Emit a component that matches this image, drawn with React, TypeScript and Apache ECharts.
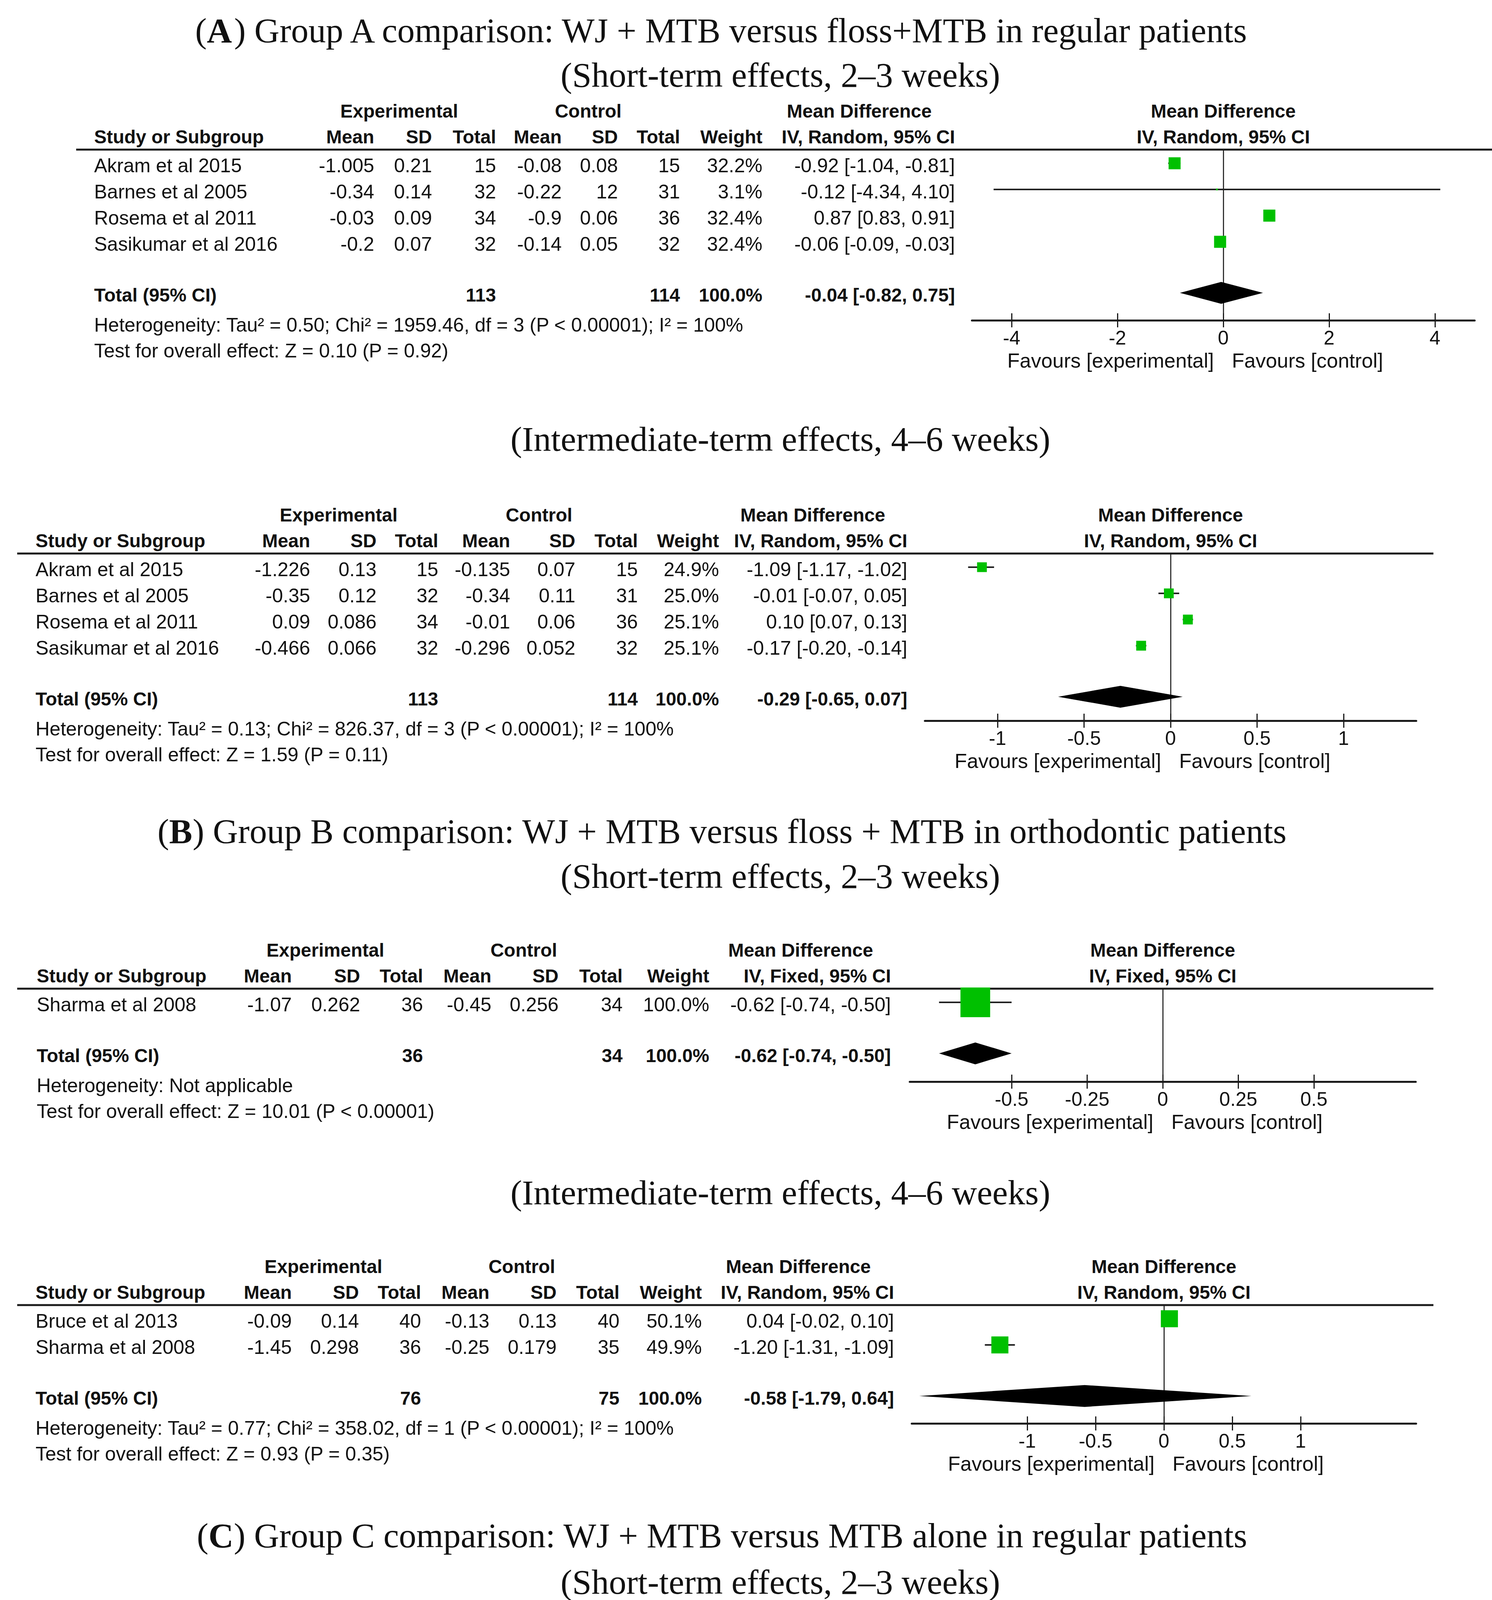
import React, { useEffect, useRef } from "react";
import * as echarts from "echarts";

// ---------------- Text content ----------------
const titleTexts = [
  "({b|A}) Group A comparison: WJ + MTB versus floss+MTB in regular patients",
  "(Short-term effects, 2–3 weeks)",
  "(Intermediate-term effects, 4–6 weeks)",
  "({b|B}) Group B comparison: WJ + MTB versus floss + MTB in orthodontic patients",
  "(Short-term effects, 2–3 weeks)",
  "(Intermediate-term effects, 4–6 weeks)",
  "({b|C}) Group C comparison: WJ + MTB versus MTB alone in regular patients",
  "(Short-term effects, 2–3 weeks)",
  "(Intermediate-term effects, 4–6 weeks)",
];
const groupHeads = ["Experimental", "Control", "Mean Difference"];
const colHeads = ["Mean", "SD", "Total", "Mean", "SD", "Total", "Weight"];
const studyHead = "Study or Subgroup";
const totalLabel = "Total (95% CI)";
const favourLabels = ["Favours [experimental]", "Favours [control]"];

// ---------------- Panel A1: Group A short-term ----------------
const a1Method = "IV, Random, 95% CI";
const a1Studies = ["Akram et al 2015", "Barnes et al 2005", "Rosema et al 2011", "Sasikumar et al 2016"];
const a1ExpMean = [-1.005, -0.34, -0.03, -0.2];
const a1ExpSD = [0.21, 0.14, 0.09, 0.07];
const a1ExpN = [15, 32, 34, 32];
const a1CtlMean = [-0.08, -0.22, -0.9, -0.14];
const a1CtlSD = [0.08, 12, 0.06, 0.05];
const a1CtlN = [15, 31, 36, 32];
const a1Weight = [32.2, 3.1, 32.4, 32.4];
const a1MD = [-0.92, -0.12, 0.87, -0.06];
const a1Lo = [-1.04, -4.34, 0.83, -0.09];
const a1Hi = [-0.81, 4.1, 0.91, -0.03];
const a1TotalN = [113, 114];
const a1TotalCI = [-0.04, -0.82, 0.75];
const a1Ticks = [-4, -2, 0, 2, 4];
const a1Notes = [
  "Heterogeneity: Tau² = 0.50; Chi² = 1959.46, df = 3 (P < 0.00001); I² = 100%",
  "Test for overall effect: Z = 0.10 (P = 0.92)",
];

// ---------------- Panel A2: Group A intermediate ----------------
const a2Method = "IV, Random, 95% CI";
const a2Studies = ["Akram et al 2015", "Barnes et al 2005", "Rosema et al 2011", "Sasikumar et al 2016"];
const a2ExpMean = [-1.226, -0.35, 0.09, -0.466];
const a2ExpSD = [0.13, 0.12, 0.086, 0.066];
const a2ExpN = [15, 32, 34, 32];
const a2CtlMean = [-0.135, -0.34, -0.01, -0.296];
const a2CtlSD = [0.07, 0.11, 0.06, 0.052];
const a2CtlN = [15, 31, 36, 32];
const a2Weight = [24.9, 25.0, 25.1, 25.1];
const a2MD = [-1.09, -0.01, 0.1, -0.17];
const a2Lo = [-1.17, -0.07, 0.07, -0.2];
const a2Hi = [-1.02, 0.05, 0.13, -0.14];
const a2TotalN = [113, 114];
const a2TotalCI = [-0.29, -0.65, 0.07];
const a2Ticks = [-1, -0.5, 0, 0.5, 1];
const a2Notes = [
  "Heterogeneity: Tau² = 0.13; Chi² = 826.37, df = 3 (P < 0.00001); I² = 100%",
  "Test for overall effect: Z = 1.59 (P = 0.11)",
];

// ---------------- Panel B1: Group B short-term ----------------
const b1Method = "IV, Fixed, 95% CI";
const b1Studies = ["Sharma et al 2008"];
const b1ExpMean = [-1.07];
const b1ExpSD = [0.262];
const b1ExpN = [36];
const b1CtlMean = [-0.45];
const b1CtlSD = [0.256];
const b1CtlN = [34];
const b1Weight = [100.0];
const b1MD = [-0.62];
const b1Lo = [-0.74];
const b1Hi = [-0.5];
const b1TotalN = [36, 34];
const b1TotalCI = [-0.62, -0.74, -0.5];
const b1Ticks = [-0.5, -0.25, 0, 0.25, 0.5];
const b1Notes = ["Heterogeneity: Not applicable", "Test for overall effect: Z = 10.01 (P < 0.00001)"];

// ---------------- Panel B2: Group B intermediate ----------------
const b2Method = "IV, Random, 95% CI";
const b2Studies = ["Bruce et al 2013", "Sharma et al 2008"];
const b2ExpMean = [-0.09, -1.45];
const b2ExpSD = [0.14, 0.298];
const b2ExpN = [40, 36];
const b2CtlMean = [-0.13, -0.25];
const b2CtlSD = [0.13, 0.179];
const b2CtlN = [40, 35];
const b2Weight = [50.1, 49.9];
const b2MD = [0.04, -1.2];
const b2Lo = [-0.02, -1.31];
const b2Hi = [0.1, -1.09];
const b2TotalN = [76, 75];
const b2TotalCI = [-0.58, -1.79, 0.64];
const b2Ticks = [-1, -0.5, 0, 0.5, 1];
const b2Notes = [
  "Heterogeneity: Tau² = 0.77; Chi² = 358.02, df = 1 (P < 0.00001); I² = 100%",
  "Test for overall effect: Z = 0.93 (P = 0.35)",
];

// ---------------- Panel C1: Group C short-term ----------------
const c1Method = "IV, Random, 95% CI";
const c1Studies = ["Cutler et al 2000", "Goyal et al 2018"];
const c1ExpMean = [-0.3, -0.08];
const c1ExpSD = [0.29, 0.009];
const c1ExpN = [20, 36];
const c1CtlMean = [-0.2, -0.04];
const c1CtlSD = [0.157, 0.01];
const c1CtlN = [20, 36];
const c1Weight = [0.1, 99.9];
const c1MD = [-0.1, -0.04];
const c1Lo = [-0.24, -0.0445];
const c1Hi = [0.04, -0.0355];
const c1TotalN = [56, 56];
const c1TotalCI = [-0.04, -0.0445, -0.0355];
const c1Ticks = [-0.2, -0.1, 0, 0.1, 0.2];
const c1Notes = [
  "Heterogeneity: Tau² = 0.00; Chi² = 0.66, df = 1 (P = 0.42); I² = 0%",
  "Test for overall effect: Z = 17.87 (P < 0.00001)",
];

// ---------------- Panel C2: Group C intermediate ----------------
const c2Method = "IV, Random, 95% CI";
const c2Studies = ["Ernst et al 2004"];
const c2ExpMean = [-0.3];
const c2ExpSD = [0.29];
const c2ExpN = [15];
const c2CtlMean = [-1.2];
const c2CtlSD = [0.6];
const c2CtlN = [15];
const c2Weight = [100.0];
const c2MD = [0.9];
const c2Lo = [0.56];
const c2Hi = [1.24];
const c2TotalN = [15, 15];
const c2TotalCI = [0.9, 0.56, 1.24];
const c2Ticks = [-1, -0.5, 0, 0.5, 1];
const c2Notes = ["Heterogeneity: Not applicable", "Test for overall effect: Z = 5.23 (P < 0.00001)"];

// ---------------- Layout (pixels) ----------------
const W = 3820;
const H = 5643;
const TITLE_POS = [
  [1849, 78], [1998, 192], [1998, 1124],
  [1849, 2128], [1998, 2243], [1998, 3053],
  [1849, 3931], [1998, 4050], [1998, 4928],
];
const LAYOUTS = [
  { headerY: 383, axisY: 820, studyX: 241, rule: [195, 3820], cols: [958, 1106, 1270, 1438, 1582, 1741, 1952, 2445], expC: 1022, ctlC: 1506, mdC: 2200, zeroX: 3132, half: 4.75, ppu: 135.5 },
  { headerY: 1417, axisY: 1845, studyX: 91, rule: [44, 3670], cols: [794, 964, 1122, 1306, 1473, 1633, 1841, 2323], expC: 867, ctlC: 1380, mdC: 2081, zeroX: 2997, half: 1.42, ppu: 443 },
  { headerY: 2531, axisY: 2769, studyX: 94, rule: [44, 3670], cols: [747, 922, 1083, 1258, 1430, 1594, 1816, 2281], expC: 833, ctlC: 1341, mdC: 2050, zeroX: 2977, half: 0.837, ppu: 774 },
  { headerY: 3341, axisY: 3644, studyX: 91, rule: [44, 3670], cols: [747, 919, 1078, 1253, 1425, 1586, 1797, 2289], expC: 828, ctlC: 1336, mdC: 2044, zeroX: 2980, half: 1.845, ppu: 350 },
  { headerY: 4335, axisY: 4641, studyX: 94, rule: [44, 3670], cols: [747, 919, 1078, 1250, 1425, 1586, 1797, 2289], expC: 828, ctlC: 1336, mdC: 2044, zeroX: 2979, half: 0.272, ppu: 2370 },
  { headerY: 5219, axisY: 5460, studyX: 93, rule: [49, 3647], cols: [760, 918, 1072, 1255, 1372, 1535, 1759, 2261], expC: 833, ctlC: 1303, mdC: 2010, zeroX: 2955, half: 1.56, ppu: 414 },
];
const ROW_H = 67;
const FIRST = 35;
const TXT_DY = 6;
const FS_HEAD = 48;
const FS_ROW = 50;
const FS_TICK = 50;
const FS_FAV = 52;
const FS_TITLE = 89;
const SANS = "'Liberation Sans', Arial, sans-serif";
const SERIF = "'Liberation Serif', 'Times New Roman', serif";
const INK = "#111111";
const LINE = "#1a1a1a";
const GREEN = "#00c000";

const panels = [
  { method: a1Method, studies: a1Studies, expMean: a1ExpMean, expSD: a1ExpSD, expN: a1ExpN, ctlMean: a1CtlMean, ctlSD: a1CtlSD, ctlN: a1CtlN, weight: a1Weight, md: a1MD, lo: a1Lo, hi: a1Hi, totalN: a1TotalN, totalCI: a1TotalCI, ticks: a1Ticks, notes: a1Notes },
  { method: a2Method, studies: a2Studies, expMean: a2ExpMean, expSD: a2ExpSD, expN: a2ExpN, ctlMean: a2CtlMean, ctlSD: a2CtlSD, ctlN: a2CtlN, weight: a2Weight, md: a2MD, lo: a2Lo, hi: a2Hi, totalN: a2TotalN, totalCI: a2TotalCI, ticks: a2Ticks, notes: a2Notes },
  { method: b1Method, studies: b1Studies, expMean: b1ExpMean, expSD: b1ExpSD, expN: b1ExpN, ctlMean: b1CtlMean, ctlSD: b1CtlSD, ctlN: b1CtlN, weight: b1Weight, md: b1MD, lo: b1Lo, hi: b1Hi, totalN: b1TotalN, totalCI: b1TotalCI, ticks: b1Ticks, notes: b1Notes },
  { method: b2Method, studies: b2Studies, expMean: b2ExpMean, expSD: b2ExpSD, expN: b2ExpN, ctlMean: b2CtlMean, ctlSD: b2CtlSD, ctlN: b2CtlN, weight: b2Weight, md: b2MD, lo: b2Lo, hi: b2Hi, totalN: b2TotalN, totalCI: b2TotalCI, ticks: b2Ticks, notes: b2Notes },
  { method: c1Method, studies: c1Studies, expMean: c1ExpMean, expSD: c1ExpSD, expN: c1ExpN, ctlMean: c1CtlMean, ctlSD: c1CtlSD, ctlN: c1CtlN, weight: c1Weight, md: c1MD, lo: c1Lo, hi: c1Hi, totalN: c1TotalN, totalCI: c1TotalCI, ticks: c1Ticks, notes: c1Notes },
  { method: c2Method, studies: c2Studies, expMean: c2ExpMean, expSD: c2ExpSD, expN: c2ExpN, ctlMean: c2CtlMean, ctlSD: c2CtlSD, ctlN: c2CtlN, weight: c2Weight, md: c2MD, lo: c2Lo, hi: c2Hi, totalN: c2TotalN, totalCI: c2TotalCI, ticks: c2Ticks, notes: c2Notes },
];

const f2 = (v: number) => v.toFixed(2);
const ciText = (m: number, l: number, h: number) => `${f2(m)} [${f2(l)}, ${f2(h)}]`;

function txt(text: string, x: number, y: number, align: string, bold = false, size = FS_ROW, family = SANS, rich?: any) {
  const style: any = {
    text,
    fill: INK,
    fontSize: size,
    fontFamily: family,
    fontWeight: bold ? "bold" : "normal",
    align,
    verticalAlign: "middle",
    textAlign: align,
    textVerticalAlign: "middle",
  };
  if (rich) style.rich = rich;
  return { type: "text", x, y, silent: true, z: 10, style };
}

function buildOption() {
  const grids: any[] = [];
  const xAxes: any[] = [];
  const yAxes: any[] = [];
  const series: any[] = [];
  const graphics: any[] = [];

  titleTexts.forEach((t, i) => {
    const [x, y] = TITLE_POS[i];
    graphics.push(
      txt(t, x, y, "center", false, FS_TITLE, SERIF, {
        b: { fontWeight: "bold", fontSize: FS_TITLE, fontFamily: SERIF, fill: INK },
      })
    );
  });

  panels.forEach((P, i) => {
    const L = LAYOUTS[i];
    const left = L.zeroX - L.half * L.ppu;
    const width = 2 * L.half * L.ppu;
    const height = L.axisY - L.headerY;
    grids.push({ left, top: L.headerY, width, height, outerBoundsMode: "none", containLabel: false });

    const fmt = (v: number) => String(Math.round(v * 1000) / 1000);
    xAxes.push({
      type: "value",
      gridIndex: i,
      position: "bottom",
      min: -L.half,
      max: L.half,
      axisLine: { show: true, onZero: false, lineStyle: { color: LINE, width: 5 } },
      axisTick: { show: true, inside: false, length: 18, customValues: P.ticks, lineStyle: { color: LINE, width: 3 } },
      axisLabel: { show: true, customValues: P.ticks, margin: 20, fontSize: FS_TICK, fontFamily: SANS, color: INK, formatter: fmt },
      splitLine: { show: false },
    });
    xAxes.push({
      type: "value",
      gridIndex: i,
      position: "bottom",
      min: -L.half,
      max: L.half,
      axisLine: { show: false, onZero: false },
      axisTick: { show: true, inside: true, length: 18, customValues: P.ticks, lineStyle: { color: LINE, width: 3 } },
      axisLabel: { show: false },
      splitLine: { show: false },
    });
    yAxes.push({
      type: "value",
      gridIndex: i,
      inverse: true,
      min: -FIRST / ROW_H,
      max: (height - FIRST) / ROW_H,
      axisLine: { show: true, onZero: true, lineStyle: { color: "#333", width: 3 } },
      axisTick: { show: false },
      axisLabel: { show: false },
      splitLine: { show: false },
    });

    const n = P.studies.length;
    const totalRow = n - 1 + 1.95;
    const data: any[] = P.studies.map((_, r) => [P.md[r], P.lo[r], P.hi[r], r, P.weight[r]]);
    data.push([P.totalCI[0], P.totalCI[1], P.totalCI[2], totalRow, -1]);

    series.push({
      type: "custom",
      xAxisIndex: 2 * i,
      yAxisIndex: i,
      clip: false,
      z: 5,
      encode: { x: [0, 1, 2], y: 3 },
      data,
      renderItem: (params: any, api: any) => {
        const est = api.value(0);
        const lo = api.value(1);
        const hi = api.value(2);
        const r = api.value(3);
        const w = api.value(4);
        const pE = api.coord([est, r]);
        const pL = api.coord([lo, r]);
        const pH = api.coord([hi, r]);
        if (w < 0) {
          const h = 28;
          return {
            type: "polygon",
            shape: { points: [[pL[0], pE[1]], [pE[0], pE[1] - h], [pH[0], pE[1]], [pE[0], pE[1] + h]] },
            style: { fill: "#000" },
          };
        }
        const s = Math.max(4, 1.91 * Math.pow(w, 0.8));
        return {
          type: "group",
          children: [
            { type: "line", shape: { x1: pL[0], y1: pE[1], x2: pH[0], y2: pE[1] }, style: { stroke: "#222", lineWidth: 4 } },
            { type: "rect", shape: { x: pE[0] - s / 2, y: pE[1] - s / 2, width: s, height: s }, style: { fill: GREEN } },
          ],
        };
      },
    });

    // ----- table text -----
    const hy1 = L.headerY - 99;
    const hy2 = L.headerY - 33;
    graphics.push(txt(groupHeads[0], L.expC, hy1, "center", true, FS_HEAD));
    graphics.push(txt(groupHeads[1], L.ctlC, hy1, "center", true, FS_HEAD));
    graphics.push(txt(groupHeads[2], L.mdC, hy1, "center", true, FS_HEAD));
    graphics.push(txt(groupHeads[2], L.zeroX, hy1, "center", true, FS_HEAD));
    graphics.push(txt(studyHead, L.studyX, hy2, "left", true, FS_HEAD));
    colHeads.forEach((h, c) => graphics.push(txt(h, L.cols[c], hy2, "right", true, FS_HEAD)));
    graphics.push(txt(P.method, L.cols[7], hy2, "right", true, FS_HEAD));
    graphics.push(txt(P.method, L.zeroX, hy2, "center", true, FS_HEAD));
    graphics.push({
      type: "line",
      silent: true,
      z: 1,
      shape: { x1: L.rule[0], y1: L.headerY, x2: L.rule[1], y2: L.headerY },
      style: { stroke: LINE, lineWidth: 5 },
    });

    const rowY = (r: number) => L.headerY + FIRST + r * ROW_H + TXT_DY;
    P.studies.forEach((s, r) => {
      const y = rowY(r);
      const cells = [
        String(P.expMean[r]),
        String(P.expSD[r]),
        String(P.expN[r]),
        String(P.ctlMean[r]),
        String(P.ctlSD[r]),
        String(P.ctlN[r]),
        P.weight[r].toFixed(1) + "%",
        ciText(P.md[r], P.lo[r], P.hi[r]),
      ];
      graphics.push(txt(s, L.studyX, y, "left"));
      cells.forEach((c, k) => graphics.push(txt(c, L.cols[k], y, "right")));
    });
    const ty = rowY(totalRow);
    graphics.push(txt(totalLabel, L.studyX, ty, "left", true, FS_HEAD));
    graphics.push(txt(String(P.totalN[0]), L.cols[2], ty, "right", true, FS_HEAD));
    graphics.push(txt(String(P.totalN[1]), L.cols[5], ty, "right", true, FS_HEAD));
    graphics.push(txt("100.0%", L.cols[6], ty, "right", true, FS_HEAD));
    graphics.push(txt(ciText(P.totalCI[0], P.totalCI[1], P.totalCI[2]), L.cols[7], ty, "right", true, FS_HEAD));
    graphics.push(txt(P.notes[0], L.studyX, ty + 76, "left"));
    graphics.push(txt(P.notes[1], L.studyX, ty + 142, "left"));

    graphics.push(txt(favourLabels[0], L.zeroX - 24, L.axisY + 103, "right", false, FS_FAV));
    graphics.push(txt(favourLabels[1], L.zeroX + 22, L.axisY + 103, "left", false, FS_FAV));
  });

  return {
    animation: false,
    backgroundColor: "#ffffff",
    grid: grids,
    xAxis: xAxes,
    yAxis: yAxes,
    series,
    graphic: graphics,
  };
}

export default function App() {
  const ref = useRef<HTMLDivElement>(null);
  useEffect(() => {
    if (!ref.current) return;
    document.body.style.margin = "0";
    const chart = echarts.init(ref.current, null, { renderer: "svg", width: W, height: H });
    chart.setOption(buildOption() as any);
    return () => chart.dispose();
  }, []);
  return <div ref={ref} style={{ width: W, height: H, background: "#fff" }} />;
}
